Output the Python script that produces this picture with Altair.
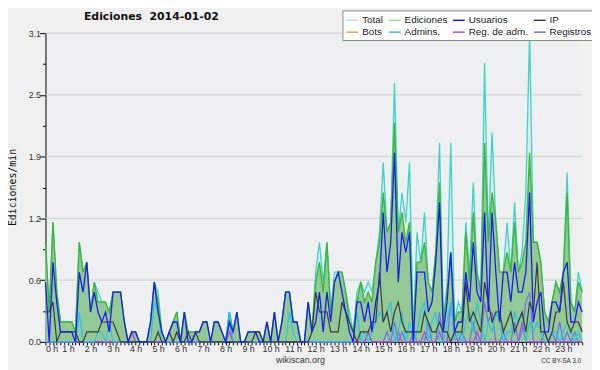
import altair as alt
import pandas as pd

# 10-minute bins, 00:00 .. 23:50  (hours)
bin_index = list(range(144))

total = [
    1.0, 0.3, 1.2, 0.5, 0.2, 0.2, 0.2, 0.2, 0.1, 1.0, 0.7, 0.8,
    0.3, 0.6, 0.5, 0.4, 0.4, 0.3, 0.5, 0.5, 0.5, 0.2, 0.0, 0.1,
    0.1, 0.0, 0.0, 0.0, 0.2, 0.6, 0.5, 0.1, 0.0, 0.1, 0.2, 0.3,
    0.0, 0.3, 0.1, 0.1, 0.1, 0.1, 0.2, 0.2, 0.0, 0.2, 0.2, 0.1,
    0.0, 0.3, 0.1, 0.3, 0.0, 0.0, 0.1, 0.1, 0.1, 0.1, 0.0, 0.2,
    0.0, 0.3, 0.0, 0.2, 0.5, 0.5, 0.2, 0.2, 0.0, 0.0, 0.4, 0.1,
    0.7, 1.0, 0.6, 1.0, 0.3, 0.7, 0.7, 0.7, 0.5, 0.3, 0.1, 0.5,
    0.6, 0.5, 0.6, 0.5, 0.8, 1.1, 1.8, 1.1, 1.2, 2.6, 1.1, 1.5,
    1.2, 1.8, 0.1, 1.1, 0.8, 1.3, 0.6, 0.5, 0.9, 2.0, 0.2, 0.6,
    2.0, 0.2, 0.4, 0.3, 1.2, 0.7, 1.6, 0.7, 0.5, 2.8, 1.0, 2.1,
    1.2, 0.7, 0.7, 1.2, 0.7, 1.4, 0.7, 0.9, 1.5, 3.1, 1.0, 1.0,
    0.8, 0.3, 0.2, 0.4, 0.6, 0.5, 0.7, 1.7, 0.4, 0.3, 0.7, 0.5,
]

ediciones = [
    1.0, 0.3, 1.2, 0.5, 0.2, 0.2, 0.2, 0.2, 0.1, 1.0, 0.7, 0.8,
    0.3, 0.6, 0.4, 0.4, 0.4, 0.3, 0.5, 0.5, 0.5, 0.2, 0.0, 0.1,
    0.1, 0.0, 0.0, 0.0, 0.2, 0.6, 0.4, 0.1, 0.0, 0.1, 0.2, 0.3,
    0.0, 0.3, 0.1, 0.1, 0.1, 0.1, 0.2, 0.2, 0.0, 0.2, 0.2, 0.1,
    0.0, 0.3, 0.1, 0.3, 0.0, 0.0, 0.1, 0.1, 0.1, 0.1, 0.0, 0.2,
    0.0, 0.3, 0.0, 0.2, 0.5, 0.5, 0.2, 0.2, 0.0, 0.0, 0.4, 0.1,
    0.6, 0.8, 0.5, 1.0, 0.3, 0.6, 0.7, 0.7, 0.5, 0.2, 0.1, 0.4,
    0.6, 0.4, 0.5, 0.4, 0.8, 1.0, 1.5, 1.1, 1.2, 2.2, 1.1, 1.3,
    1.0, 1.2, 0.1, 0.8, 0.8, 1.0, 0.6, 0.5, 0.9, 1.6, 0.2, 0.5,
    0.9, 0.2, 0.3, 0.3, 1.1, 0.6, 1.3, 0.7, 0.5, 2.0, 1.0, 1.5,
    1.2, 0.7, 0.7, 0.9, 0.7, 1.2, 0.7, 0.8, 1.0, 1.9, 1.0, 1.0,
    0.8, 0.3, 0.2, 0.4, 0.6, 0.5, 0.7, 1.5, 0.4, 0.3, 0.6, 0.5,
]

usuarios = [
    0.6, 0.0, 0.8, 0.4, 0.1, 0.1, 0.1, 0.1, 0.0, 0.7, 0.5, 0.8,
    0.3, 0.5, 0.3, 0.2, 0.3, 0.1, 0.5, 0.5, 0.5, 0.2, 0.0, 0.1,
    0.1, 0.0, 0.0, 0.0, 0.2, 0.6, 0.3, 0.1, 0.0, 0.1, 0.2, 0.2,
    0.0, 0.3, 0.0, 0.0, 0.1, 0.1, 0.2, 0.2, 0.0, 0.2, 0.2, 0.1,
    0.0, 0.2, 0.1, 0.3, 0.0, 0.0, 0.1, 0.1, 0.1, 0.0, 0.0, 0.2,
    0.0, 0.3, 0.0, 0.2, 0.5, 0.5, 0.2, 0.2, 0.0, 0.0, 0.4, 0.1,
    0.2, 0.5, 0.1, 0.5, 0.2, 0.6, 0.7, 0.5, 0.3, 0.1, 0.0, 0.4,
    0.4, 0.2, 0.4, 0.1, 0.4, 0.6, 1.3, 0.7, 1.0, 1.9, 0.6, 1.1,
    0.9, 1.1, 0.0, 0.7, 0.7, 0.7, 0.3, 0.4, 0.8, 1.4, 0.1, 0.4,
    0.9, 0.1, 0.2, 0.2, 0.7, 0.4, 1.0, 0.5, 0.4, 1.3, 0.3, 1.3,
    0.7, 0.2, 0.7, 0.7, 0.4, 0.8, 0.5, 0.5, 0.7, 1.5, 0.2, 0.4,
    0.5, 0.1, 0.1, 0.4, 0.4, 0.3, 0.7, 0.8, 0.2, 0.2, 0.4, 0.3,
]

ip = [
    0.3, 0.3, 0.4, 0.0, 0.1, 0.1, 0.1, 0.1, 0.1, 0.0, 0.0, 0.1,
    0.1, 0.1, 0.1, 0.2, 0.2, 0.2, 0.2, 0.1, 0.0, 0.0, 0.0, 0.0,
    0.0, 0.0, 0.0, 0.0, 0.0, 0.0, 0.1, 0.0, 0.0, 0.1, 0.0, 0.1,
    0.0, 0.0, 0.1, 0.0, 0.1, 0.0, 0.0, 0.0, 0.0, 0.0, 0.0, 0.0,
    0.0, 0.0, 0.0, 0.0, 0.0, 0.0, 0.0, 0.0, 0.1, 0.1, 0.0, 0.0,
    0.0, 0.0, 0.0, 0.0, 0.0, 0.0, 0.0, 0.0, 0.0, 0.0, 0.0, 0.1,
    0.5, 0.3, 0.3, 0.3, 0.1, 0.1, 0.1, 0.4, 0.3, 0.2, 0.1, 0.0,
    0.1, 0.1, 0.1, 0.2, 0.2, 0.7, 0.2, 0.3, 0.1, 0.3, 0.4, 0.2,
    0.1, 0.1, 0.1, 0.1, 0.1, 0.3, 0.2, 0.1, 0.1, 0.2, 0.1, 0.1,
    0.0, 0.1, 0.1, 0.1, 0.6, 0.2, 0.3, 0.2, 0.1, 0.6, 0.4, 0.2,
    0.3, 0.3, 0.1, 0.2, 0.3, 0.1, 0.2, 0.3, 0.1, 0.4, 0.3, 0.8,
    0.1, 0.1, 0.0, 0.1, 0.3, 0.3, 0.6, 0.2, 0.1, 0.2, 0.2, 0.1,
]

admins = [
    0.0, 0.0, 0.0, 0.0, 0.0, 0.0, 0.0, 0.0, 0.0, 0.3, 0.0, 0.0,
    0.0, 0.0, 0.1, 0.1, 0.0, 0.2, 0.0, 0.0, 0.0, 0.0, 0.0, 0.0,
    0.0, 0.0, 0.0, 0.0, 0.0, 0.4, 0.3, 0.0, 0.0, 0.0, 0.0, 0.0,
    0.0, 0.0, 0.0, 0.0, 0.0, 0.0, 0.0, 0.0, 0.0, 0.0, 0.0, 0.0,
    0.0, 0.3, 0.0, 0.0, 0.0, 0.0, 0.0, 0.0, 0.0, 0.0, 0.0, 0.0,
    0.0, 0.0, 0.0, 0.0, 0.0, 0.3, 0.1, 0.0, 0.0, 0.0, 0.0, 0.0,
    0.0, 0.0, 0.0, 0.0, 0.0, 0.0, 0.0, 0.0, 0.0, 0.0, 0.0, 0.3,
    0.0, 0.1, 0.0, 0.1, 0.2, 0.3, 0.2, 0.3, 0.4, 0.0, 0.1, 0.3,
    0.0, 0.2, 0.0, 0.1, 0.3, 0.4, 0.0, 0.2, 0.3, 0.0, 0.0, 0.2,
    0.4, 0.0, 0.1, 0.0, 0.2, 0.3, 0.1, 0.4, 0.2, 0.0, 0.2, 0.1,
    0.3, 0.2, 0.0, 0.1, 0.1, 0.3, 0.2, 0.3, 0.0, 0.2, 0.1, 0.2,
    0.1, 0.0, 0.0, 0.1, 0.1, 0.0, 0.1, 0.2, 0.1, 0.0, 0.1, 0.0,
]

registros = [
    0.0, 0.0, 0.0, 0.0, 0.0, 0.0, 0.0, 0.0, 0.0, 0.0, 0.0, 0.0,
    0.0, 0.0, 0.0, 0.0, 0.0, 0.0, 0.0, 0.0, 0.0, 0.0, 0.0, 0.1,
    0.0, 0.0, 0.0, 0.0, 0.0, 0.0, 0.0, 0.0, 0.0, 0.0, 0.0, 0.0,
    0.0, 0.0, 0.0, 0.0, 0.0, 0.0, 0.0, 0.0, 0.0, 0.0, 0.0, 0.0,
    0.0, 0.2, 0.0, 0.0, 0.0, 0.0, 0.0, 0.0, 0.0, 0.0, 0.0, 0.0,
    0.0, 0.0, 0.0, 0.0, 0.0, 0.0, 0.0, 0.0, 0.0, 0.0, 0.0, 0.0,
    0.0, 0.0, 0.0, 0.0, 0.0, 0.0, 0.0, 0.0, 0.0, 0.0, 0.0, 0.0,
    0.0, 0.0, 0.1, 0.0, 0.0, 0.0, 0.0, 0.1, 0.0, 0.2, 0.0, 0.1,
    0.0, 0.0, 0.1, 0.0, 0.0, 0.0, 0.2, 0.0, 0.0, 0.3, 0.0, 0.0,
    0.4, 0.1, 0.0, 0.1, 0.0, 0.0, 0.2, 0.0, 0.0, 0.4, 0.2, 0.3,
    0.0, 0.0, 0.1, 0.0, 0.0, 0.2, 0.0, 0.1, 0.4, 0.5, 0.0, 0.0,
    0.0, 0.1, 0.0, 0.1, 0.0, 0.2, 0.0, 0.1, 0.0, 0.1, 0.0, 0.0,
]

reg_adm = [
    0.0, 0.0, 0.0, 0.0, 0.0, 0.0, 0.0, 0.0, 0.0, 0.0, 0.0, 0.0,
    0.0, 0.0, 0.0, 0.0, 0.0, 0.0, 0.0, 0.0, 0.0, 0.0, 0.0, 0.1,
    0.0, 0.0, 0.0, 0.0, 0.0, 0.0, 0.0, 0.0, 0.0, 0.0, 0.0, 0.0,
    0.0, 0.0, 0.0, 0.0, 0.0, 0.0, 0.0, 0.0, 0.0, 0.0, 0.0, 0.0,
    0.0, 0.1, 0.0, 0.0, 0.0, 0.0, 0.0, 0.0, 0.0, 0.0, 0.0, 0.0,
    0.0, 0.0, 0.0, 0.0, 0.0, 0.0, 0.0, 0.0, 0.0, 0.0, 0.0, 0.0,
    0.0, 0.0, 0.0, 0.0, 0.0, 0.0, 0.0, 0.0, 0.0, 0.0, 0.0, 0.0,
    0.0, 0.0, 0.1, 0.0, 0.0, 0.0, 0.0, 0.0, 0.0, 0.0, 0.1, 0.0,
    0.0, 0.0, 0.0, 0.0, 0.0, 0.1, 0.0, 0.0, 0.0, 0.1, 0.0, 0.0,
    0.0, 0.1, 0.0, 0.0, 0.0, 0.0, 0.0, 0.1, 0.0, 0.0, 0.0, 0.0,
    0.0, 0.0, 0.0, 0.0, 0.0, 0.0, 0.0, 0.2, 0.0, 0.0, 0.0, 0.0,
    0.0, 0.0, 0.0, 0.0, 0.0, 0.0, 0.0, 0.0, 0.0, 0.0, 0.0, 0.0,
]

y_ticks = [round(i * 0.31, 2) for i in range(11)]
y_grid = [0.62, 1.24, 1.86, 2.48, 3.1]

series_names = ["Total", "Ediciones", "Usuarios", "IP", "Bots", "Admins.", "Reg. de adm.", "Registros"]
series_colors = ["#b4e6e4", "#9fd49f", "#1c1cee", "#3a3a3a", "#f0a040", "#2cc4e4", "#b845e0", "#6e6ef6"]

TOTAL_LINE = "#3fd2c6"
EDIC_LINE = "#3db53d"
EDIC_FILL = "#93c994"
TOTAL_FILL = "#d2eeec"

df = pd.DataFrame({
    "t": [b / 6 for b in bin_index],
    "total": total,
    "edic": ediciones,
    "usu": usuarios,
    "ip": ip,
    "adm": admins,
    "reg": registros,
    "regadm": reg_adm,
})

LABEL_FONT = "Liberation Sans Narrow, Liberation Sans"
is_hour = "abs(datum.value - round(datum.value)) < 0.001"
is_major = "round(datum.value / 0.31) % 2 == 0"

x_scale = alt.Scale(domain=[0, 143 / 6], nice=False, zero=False)
y_scale = alt.Scale(domain=[0, 3.1], nice=False)

x_axis = alt.Axis(
    values=[b / 6 for b in bin_index],
    labelExpr=f"{is_hour} ? round(datum.value) + ' h' : ''",
    labelOverlap=False,
    tickSize=3, labelPadding=0, tickColor="#000", domainColor="#000",
    labelFont=LABEL_FONT, labelFontSize=9, labelColor="#333",
    grid=False,
    title="wikiscan.org", titleFont="Liberation Sans", titleFontSize=9,
    titleFontWeight="normal", titleColor="#333",
    titleX=258, titleY=21, titleBaseline="alphabetic", titleAlign="center",
)

y_axis = alt.Axis(
    values=y_ticks,
    labelExpr=f"{is_major} ? format(datum.value, '.1f') : ''",
    labelOverlap=False,
    tickSize={"condition": {"test": is_major, "value": 6}, "value": 3},
    labelPadding=-1, tickColor="#000", domainColor="#000",
    labelFont=LABEL_FONT, labelFontSize=9, labelColor="#333",
    grid=False,
    title="Ediciones/min", titleFont="DejaVu Sans Mono", titleFontSize=10,
    titleFontWeight="normal", titleColor="#111",
    titleAngle=270, titleX=-38, titleY=156, titleAlign="center", titleBaseline="top",
)

legend = alt.Legend(
    title=None, orient="none", legendX=301, legendY=-23,
    direction="horizontal", columns=4, symbolType="stroke",
    symbolSize=144, symbolStrokeWidth=1.5, symbolOpacity=1,
    labelFont="Liberation Sans", labelFontSize=10, labelColor="#222",
    labelOffset=3, columnPadding=2, rowPadding=0, padding=3,
    fillColor="#ffffff", strokeColor="#888888", labelLimit=0,
)
color_scale = alt.Scale(domain=series_names, range=series_colors)

X = alt.X("t:Q", scale=x_scale, axis=x_axis, title="wikiscan.org")


def Y(col):
    return alt.Y(f"{col}:Q", scale=y_scale, axis=y_axis, title="Ediciones/min")


base = alt.Chart(df)

grid_rules = alt.Chart(pd.DataFrame({"g": y_grid})).mark_rule(
    color="#cfcfd2", strokeWidth=1
).encode(y=Y("g"))

total_area = base.mark_area(color=TOTAL_FILL, opacity=0.7).encode(x=X, y=Y("total"))
total_line = base.mark_line(color=TOTAL_LINE, strokeWidth=1.3).encode(x=X, y=Y("total"))
edic_area = base.mark_area(color=EDIC_FILL, opacity=1).encode(x=X, y=Y("edic"))
edic_line = base.mark_line(color=EDIC_LINE, strokeWidth=1.4).encode(x=X, y=Y("edic"))


def series_line(col, name, width=1.2):
    return base.transform_calculate(series=f"'{name}'").mark_line(strokeWidth=width).encode(
        x=X, y=Y(col),
        color=alt.Color("series:N", scale=color_scale, legend=legend),
    )


cc_text = alt.Chart(pd.DataFrame({"txt": ["CC BY-SA 3.0"]})).mark_text(
    align="right", baseline="alphabetic", font="Liberation Sans", fontSize=6.5, color="#333"
).encode(x=alt.value(543), y=alt.value(334.5), text="txt:N")

chart = alt.layer(
    grid_rules, total_area, total_line, edic_area, edic_line,
    series_line("reg", "Registros"),
    series_line("regadm", "Reg. de adm."),
    series_line("adm", "Admins."),
    series_line("ip", "IP"),
    series_line("usu", "Usuarios", 1.3),
    cc_text,
).properties(
    width=544, height=313,
    padding={"left": 38, "top": 23, "right": 10, "bottom": 26},
    autosize=alt.AutoSizeParams(type="none"),
    background="#f0f0f0",
    title=alt.TitleParams(
        text="Ediciones\u00a0 2014-01-02", font="DejaVu Sans", fontSize=11,
        fontWeight="bold", color="#111", anchor="start", dx=39, dy=16, frame="group",
    ),
).configure_view(fill="#eeeff1", stroke=None)

chart.save("out.html", embed_options={"renderer": "svg", "actions": False})
